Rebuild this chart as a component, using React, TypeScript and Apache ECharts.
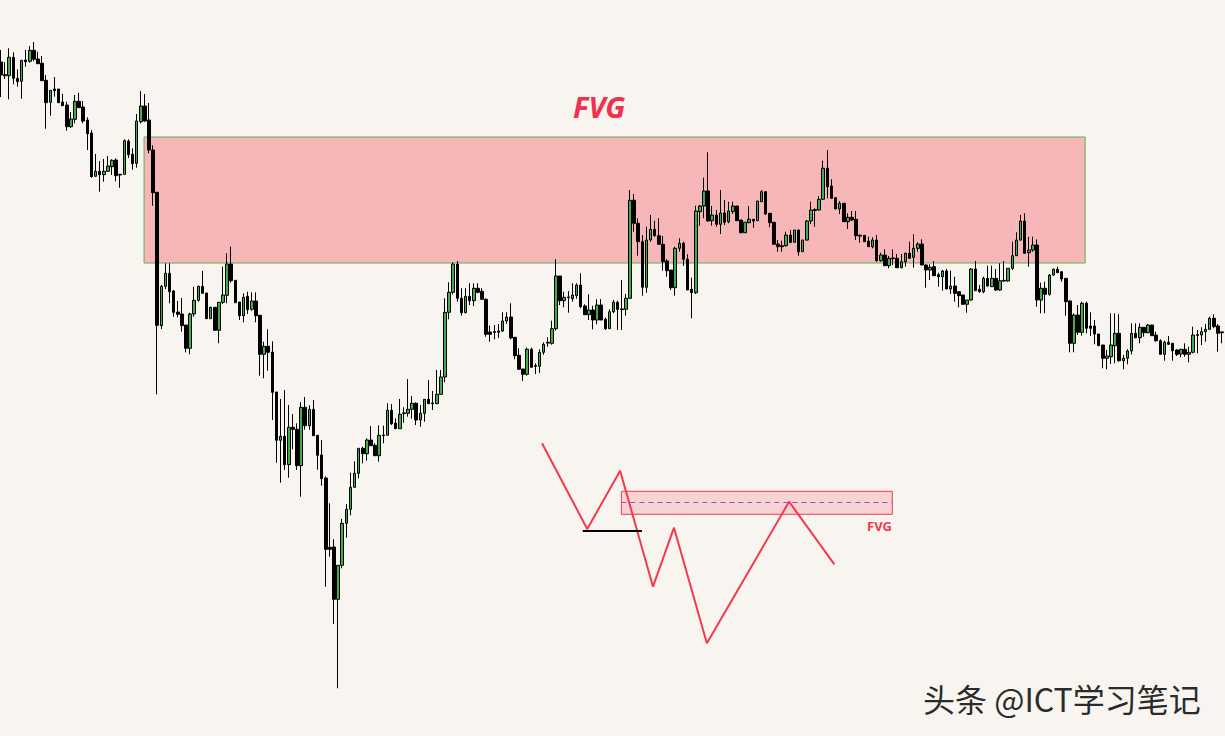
import React, { useEffect, useRef } from "react";
import * as echarts from "echarts";

// [open, close, low, high]
const ohlc: number[][] = [
  [938,925,903,950],[925.3,924.3,921,938],[924.3,942.7,900.7,951.7],[942.7,921.7,915.7,947.7],[921.7,918.3,913.3,930.7],
  [918.7,939.7,901.3,940],[940,938.3,933.3,950],[938.7,949.7,937.3,954],[949.7,940.7,938.7,958],[941,936.3,936.3,948.3],
  [936.7,919.3,919.3,944],[919.7,897.3,871.3,925],[897.7,909.7,884.3,910],[911,909.3,903.3,923],[911,897.3,897.3,911],
  [898,894.3,894.3,906.3],[895,873.3,869.3,898.3],[873.3,881,872,888],[880.7,898.7,876.7,905],[898.7,892.3,892.3,907.3],
  [893,879,876.7,899],[880,866.3,850,882.7],[867,823.3,822.3,870],[823.7,828.7,823.3,846],[828.7,825.3,808.3,839],
  [825.3,828.7,818.3,841],[828.7,834,828.7,844],[833.3,839.7,825,840.7],[840,824.3,818.7,841.7],[825.7,825,812.3,825.7],
  [825.7,859.3,825.3,860.7],[859,845.3,842,860.7],[845.7,836.3,830.3,851.7],[836.7,879,832.3,886],[878.3,894,876.7,909],
  [894,879,878.3,906],[880,850,846.7,897],[850,807.3,794.3,854.7],[807.7,674.7,605.7,808],[674.3,713.7,671,715],
  [713.7,726.7,711,736.7],[726.7,708.3,696.7,736.7],[709,687.7,683.3,710],[688,685.7,682.7,699],[686,674.3,668.3,702],
  [675,651.7,647.7,675],[651.7,686,645.7,687.3],[686,699.7,683.3,713.3],[699.7,713.7,698.3,714.3],[713.7,706.7,706.7,729],
  [707,681.3,681.3,707],[681.3,692.7,681.3,693.3],[692.7,669.7,669.7,692.7],[669.7,697.7,656.7,698],[697.7,705,696,733.3],
  [704.7,736,696.7,746.7],[736,719.3,717.3,753.3],[719.7,697.3,697.3,719.7],[698,684.3,680,698],[684.3,702.7,677.7,706.7],
  [703.7,690.3,686,708.3],[690.7,699,689.3,707.7],[699,684.3,677.7,707.7],[684.7,645.7,624.3,684.7],[645.7,653.7,621.7,658.3],
  [653.7,647.7,629.3,670.7],[648,607.7,580,658.7],[608,559.7,537.3,608],[559.7,563.7,517.3,601],[563.7,535.3,530,610],
  [535.3,572.7,522.3,595],[572.7,570.7,550.7,586],[570.7,534.3,530,576.7],[534.3,592.7,503.3,598],[592.7,574.3,570.3,603],
  [574.3,590.7,570.3,594.7],[590.7,564.3,564.3,600],[564.7,544.7,530.3,564.7],[545,521.3,514.3,560],[522,450.7,413.3,523.7],
  [452.7,450.7,443.3,496.7],[453,400.7,376,460.7],[400.7,434.7,311.7,434.7],[434.7,476.7,431.7,481],[476.7,490.7,462.3,496],
  [490.7,512.7,484.7,527.3],[512.7,526.7,512.7,538.7],[526.7,551.7,521.7,551.7],[551.7,546.3,536.7,553.3],[546.3,560,539.3,561.7],
  [560,554.3,554.3,574],[554.7,544.3,544.3,556.7],[544.3,564.7,538.3,574.7],[565.1,564.3,556.7,574.3],[564.7,589.7,564.7,596.7],
  [589.7,576.3,575,596],[577,571.3,571.3,581.7],[571.3,585.7,571.3,601],[587.1,586.3,577.3,592.7],[586.7,590.7,583.3,621],
  [590.7,596.7,581.3,604],[596.7,580,575,597.7],[580,586.7,573.3,595],[586.7,600.7,578.3,601],[600.7,596.3,596.3,620],
  [597.1,596.3,590,609],[596.3,605.7,596.3,630],[605.7,623,605.7,630],[623,687.7,617.7,701.7],[687.7,707.7,680.7,717.7],
  [707.7,736,705.7,737.7],[736,701.7,698.3,739],[701.7,687.3,684.3,711.7],[687.3,703.7,686.7,711.7],[703.7,699.3,695,716.7],
  [699.3,711.7,694,716.7],[711.7,707.7,706.7,716.7],[708.7,700.7,700,711.7],[700.7,665.7,663.3,701.7],[668,665.7,658.3,674.3],
  [668.4,667.6,660.7,675],[669,667.7,662,676],[669,679,668,687.7],[679,683,676,687.7],[683,662,660.7,696.7],
  [662.7,644.3,640.7,662.7],[644.7,630.7,630.7,651.7],[631,625.7,619,631],[625.7,650.7,624.3,652.3],[650.7,632.7,632.7,652.3],
  [634.4,633.6,626,636.7],[633.7,647.7,627,650.7],[647.7,655.7,645.3,657.7],[657.7,656.9,653.3,662.7],[656.7,671.3,655.3,679.3],
  [671.3,724,669.3,740.7],[724,699.3,695,724],[699.3,702.7,692.7,708.3],[703.1,702.3,687.3,709],[701.3,705,698.3,716.7],
  [704.3,715,701.3,716.7],[715,693.3,691.7,726.7],[694,685.3,685.3,695.7],[685.3,690,680,705.7],[690,680,670.7,694.3],
  [680,695,675.7,700.7],[695,680,680,701],[680.7,671.3,670,682.3],[671.3,688.3,671.3,690.7],[688.3,697.7,686.7,700],
  [697.7,690.7,670,699.3],[691.1,690.3,670,720],[690.7,701.7,684.3,706],[701.7,799.7,701,810],[799.7,776.7,768.3,806],
  [776.7,758.3,744.3,781.7],[758.3,712.7,704.3,765],[712.7,760,707.3,773.3],[760,770.7,758.3,785],[770.7,764.3,763.3,779.3],
  [764.3,755.7,755.7,781.7],[755.7,738.3,729.3,764],[739,729.3,723.3,741],[730,712.3,710,730],[712.3,751.7,704.3,753.3],
  [751.7,756.7,748.3,761.7],[756.7,740.7,734,758.3],[740.7,710,710,745.7],[710.7,707.3,681.7,722.3],[707.3,789,706,794.3],
  [788.3,794,774.3,795],[794,809,781.7,822.3],[809,779,778.3,847.7],[779.3,785,774.3,794],[785,775.7,773.3,790],
  [775.7,787,766,810],[787,777.7,775,800],[778.3,789,776.7,798.3],[788.3,794,786,798.3],[794,779.3,779.3,794],
  [780,767.3,766.7,780],[767.3,777.7,767.3,777.7],[777.3,780.7,776.7,794],[780.7,779,772.3,780.7],[779.3,799,779.3,799],
  [798.3,808.3,798.3,810],[808.3,786,785,808.3],[786.7,777.3,772.7,786.7],[777.7,755.7,755.7,777.7],[756,753.3,748.3,760],
  [754.3,753.3,748.3,759.3],[754.3,765,753.3,768.3],[765,757.7,756.7,770],[757.7,770,757.7,770],[770,748.3,744.3,770],
  [748.3,760,748.3,760],[760,779,759.3,780],[779,790,776,798.3],[790.4,789.6,773.3,791.7],[790,800.7,789.3,804],
  [800.7,831.7,800,839.3],[831.7,813.3,801.7,850],[814,801.7,801.7,820.7],[802.3,791,791,802.3],[791,796.7,786,799],
  [796.7,778.3,778.3,796.7],[778.3,782.7,771,786.7],[782.7,780,779,789],[780.7,764.3,760,789],[764.7,763.9,757.3,765.7],
  [764.7,758.3,758.3,764.7],[759,753.3,753.3,763.3],[753.3,760,751.7,762.7],[760,739.3,738.3,765],[739.3,745,738.3,747.3],
  [745,734.3,734.3,750.7],[734.3,741.7,731.7,744],[742.1,741.3,735,750.7],[741.7,732.3,732.3,746],[732.3,738.3,731.7,746],
  [738.3,746.7,733.3,747.3],[746.7,741.7,741.7,758.3],[742.7,751.7,732.3,765.7],[751.7,756,748.3,757.7],[756,735,735,760.7],
  [735,730,712.3,735.7],[730,732.7,720,735.7],[733.3,724.3,724.3,739],[725.3,723.3,713.3,727.3],[723.3,729,709.3,730],
  [729,711,711,731],[711,714,706,729.3],[714,706.7,698.3,723.3],[708.3,704.3,692.7,708.3],[705,695.7,695.7,705],
  [695.7,700,687.3,700],[700,731,699.3,731.7],[731,709.3,709.3,739],[710.7,708.3,707.3,715],[708.3,721.7,706.7,723.3],
  [721.7,714,713.3,734.3],[713.3,721.7,713.3,734.3],[721.7,710,709.3,731],[710,719.3,709.3,736.7],[719.7,718.9,718.3,739],
  [719,731.7,718.3,731.7],[731.7,744.3,730,758.3],[744.3,760,744,767.7],[760,779,759.3,785],[779,746.7,746.7,786.7],
  [747.3,750,733.3,763.3],[750,755,748.3,763.3],[755,700,693.3,760.7],[700,711.7,686.7,717.3],[711.7,705.7,686.7,718.3],
  [705.7,725,704.3,726],[725,730.7,724.3,731.7],[730.7,727.3,727.3,733.3],[728.3,721,718.3,728.3],[721.7,698.3,684.3,721.7],
  [699,656.7,647.7,700],[656.7,685,647.7,686.7],[685,667.7,665,695],[667.7,696.7,664.3,698.3],[696.7,671.7,666.7,698.3],
  [674,671.7,664,687.7],[674,666,655.7,680],[666,654.3,654.3,666],[655,641.7,631.7,655],[641.7,644,630.7,650],
  [643.3,655,636,686.7],[654.3,666.7,636.7,686.7],[666.7,639.3,638.3,686],[639.3,641.7,630.7,645],[641.7,649,635.7,650.7],
  [649,666.7,645.7,676.7],[666.7,662.3,661.7,676.7],[662.3,672.7,656.7,676.7],[672.7,667.3,663.3,672.7],[667.3,675,666.7,676],
  [675,664.3,664.3,675],[665,659.3,658.3,668.3],[659.3,645.7,645.7,660.7],[645.7,657.7,639.3,659.3],[657.7,655.7,655,664],
  [656.7,649.3,639.3,656.7],[650,645.7,644,650.7],[646,650.7,642.7,651],[650.7,645.7,643.3,656.7],[645.7,647.7,637.7,653.3],
  [647.7,665,646.7,673.3],[665.4,664.6,646.7,670],[665,668.3,655,672.7],[668.3,670.7,658.3,676],[670.7,681.7,670,683.3],
  [681.7,673.3,671.7,685.7],[674,666.7,648.3,676],[668.1,667.3,656.7,668.3],
];

const categories: string[] = ohlc.map((_, i) => `K${i + 1}`);

// Big FVG zone (bar position range, price range)
const fvgZoneX = [34.8, 263.7];
const fvgZoneY = [863, 737];

// Schematic price path drawn under the candles
const sketchPath: number[][] = [
  [131.6, 556.7], [142.6, 471], [150.6, 529.3], [158.6, 413.3],
  [163.7, 472.3], [171.7, 356.7], [191.7, 498.3], [202.7, 435.7],
];
const sketchGapX = [150.9, 216.8];
const sketchGapY = [508.7, 485.7];
const sketchGapMid = 498;
const sketchLowX = [141.5, 155.9];
const sketchLowY = 469.7;

// Annotation text anchors
const bigLabelAt = [145.5, 894];
const smallLabelAt = [216.7, 474.3];
const labels = ["FVG", "FVG"];

const priceMin = 264;
const priceMax = 1000;

export default function App() {
  const ref = useRef<HTMLDivElement>(null);
  useEffect(() => {
    if (!ref.current) return;
    const chart = echarts.init(ref.current, null, { renderer: "svg" });
    const red = "#f23a4c";
    chart.setOption({
      animation: false,
      backgroundColor: "#f8f5f0",
      grid: { left: 1, right: 3, top: 0, bottom: 0 },
      xAxis: [
        { type: "category", data: categories, boundaryGap: false, show: false },
        { type: "value", min: 0, max: categories.length - 1, show: false },
      ],
      yAxis: [{ type: "value", min: priceMin, max: priceMax, show: false, splitLine: { show: false } }],
      series: [
        {
          type: "line",
          name: "zone",
          xAxisIndex: 1,
          data: [],
          z: 1,
          silent: true,
          markArea: {
            silent: true,
            itemStyle: { color: "#f7b6b8", opacity: 1, borderColor: "#5dae54", borderWidth: 1 },
            data: [[{ coord: [fvgZoneX[0], fvgZoneY[0]] }, { coord: [fvgZoneX[1], fvgZoneY[1]] }]],
          },
        },
        {
          type: "candlestick",
          data: ohlc,
          z: 3,
          barWidth: 3,
          itemStyle: {
            color: "#3fae49",
            color0: "#000000",
            borderColor: "#000000",
            borderColor0: "#000000",
            borderWidth: 1,
          },
        },
        {
          type: "line",
          name: "sketch",
          xAxisIndex: 1,
          data: sketchPath,
          symbol: "none",
          z: 4,
          lineStyle: { color: red, width: 2 },
          markArea: {
            silent: true,
            itemStyle: { color: "rgba(246,180,184,0.5)", borderColor: red, borderWidth: 1 },
            data: [[{ coord: [sketchGapX[0], sketchGapY[0]] }, { coord: [sketchGapX[1], sketchGapY[1]] }]],
          },
          markLine: {
            silent: true,
            symbol: "none",
            label: { show: false },
            data: [
              [
                { coord: [sketchGapX[0], sketchGapMid], lineStyle: { color: "#b040d8", width: 1, type: [5, 4] } },
                { coord: [sketchGapX[1], sketchGapMid] },
              ],
              [
                { coord: [sketchLowX[0], sketchLowY], lineStyle: { color: "#000000", width: 2, type: "solid" } },
                { coord: [sketchLowX[1], sketchLowY] },
              ],
            ],
          },
        },
        {
          type: "scatter",
          xAxisIndex: 1,
          symbolSize: 0,
          z: 5,
          silent: true,
          itemStyle: { opacity: 1 },
          data: [
            {
              value: bigLabelAt,
              label: {
                show: true, position: "inside", formatter: labels[0], color: "#f0304c", opacity: 1,
                fontSize: 29, fontWeight: "bold", fontStyle: "italic", fontFamily: "Noto Sans",
              },
            },
            {
              value: smallLabelAt,
              label: {
                show: true, position: "left", distance: 0, formatter: labels[1], color: red, opacity: 1,
                fontSize: 13, fontWeight: "bold", fontFamily: "Noto Sans",
              },
            },
          ],
        },
      ],
      graphic: [
        {
          type: "text",
          x: 923,
          y: 698,
          style: {
            text: "头条 @ICT学习笔记",
            fill: "#2b2b2b",
            font: '32px "Noto Sans CJK SC"',
            textVerticalAlign: "middle",
            shadowColor: "rgba(255,255,255,0.95)",
            shadowOffsetX: -1,
            shadowOffsetY: 1,
          },
        },
      ],
    });
    return () => chart.dispose();
  }, []);
  return (
    <div
      ref={ref}
      style={{ position: "fixed", left: 0, top: 0, width: 1225, height: 736 }}
    />
  );
}
